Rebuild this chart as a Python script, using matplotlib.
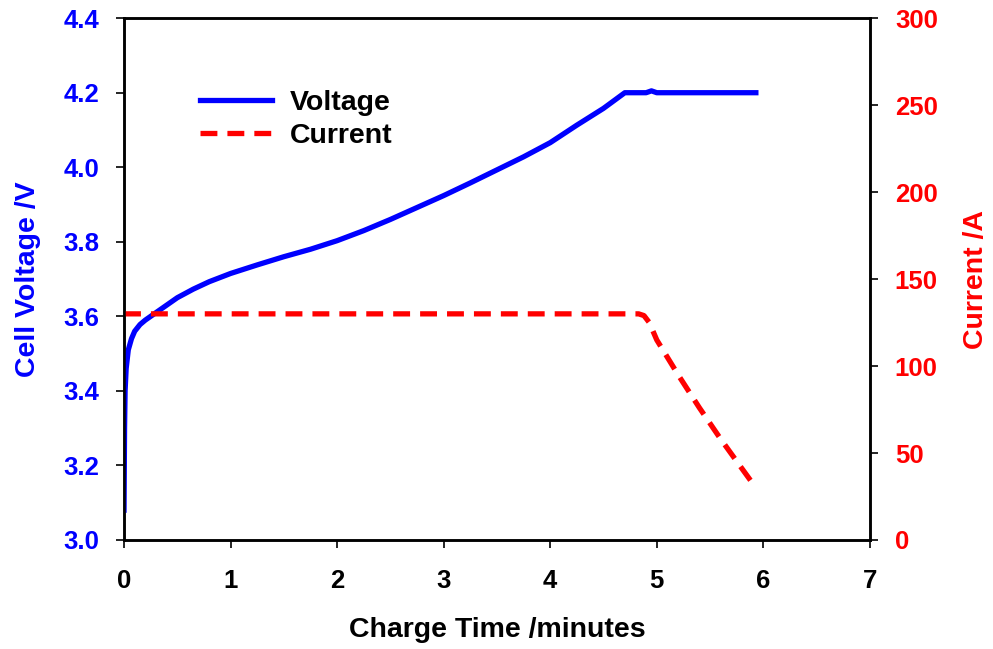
import numpy as np
import matplotlib.pyplot as plt

plt.rcParams['font.family'] = ['Liberation Sans', 'DejaVu Sans']
plt.rcParams['font.weight'] = 'bold'

# Voltage curve (minutes, volts)
time_v = [0.0, 0.005, 0.01, 0.02, 0.04, 0.07, 0.1, 0.15, 0.2, 0.3, 0.4, 0.5, 0.65,
          0.8, 1.0, 1.25, 1.5, 1.75, 2.0, 2.25, 2.5, 2.75, 3.0, 3.25, 3.5, 3.75,
          4.0, 4.25, 4.5, 4.7, 4.9, 4.95, 5.0, 5.5, 5.93]
voltage = [3.08, 3.3, 3.4, 3.46, 3.51, 3.54, 3.56, 3.578, 3.59, 3.61, 3.63, 3.65, 3.673,
           3.693, 3.715, 3.738, 3.76, 3.78, 3.803, 3.83, 3.86, 3.892, 3.924, 3.958,
           3.993, 4.028, 4.066, 4.113, 4.158, 4.20, 4.20, 4.205, 4.20, 4.20, 4.20]

# Current curve (minutes, amps)
time_i = [0.0, 4.83, 4.88, 4.93, 5.0, 5.2, 5.4, 5.6, 5.8, 5.93]
current = [130, 130, 129, 125, 115, 95, 76, 58, 41, 30]

fig, ax = plt.subplots(figsize=(9.93, 6.49), dpi=100)
fig.subplots_adjust(left=0.1249, right=0.876, bottom=0.168, top=0.972)
ax2 = ax.twinx()

l1, = ax.plot(time_v, voltage, color='#0000FF', lw=3.8, label='Voltage', zorder=3)
l2, = ax2.plot(time_i, current, color='#FF0000', lw=3.8, ls=(0, (3.2, 1.9)), label='Current')

ax.set_xlim(0, 7)
ax.set_ylim(3.0, 4.4)
ax2.set_ylim(0, 300)
ax.set_xticks(np.arange(0, 8, 1))
ax.set_yticks(np.arange(3.0, 4.41, 0.2))
ax.set_yticklabels([f'{v:.1f}' for v in np.arange(3.0, 4.41, 0.2)])
ax2.set_yticks(np.arange(0, 301, 50))

for a in (ax, ax2):
    for s in a.spines.values():
        s.set_linewidth(1.8)
    a.tick_params(width=1.2, length=6, direction='out', labelsize=18.5)

ax.tick_params(axis='y', colors='black', labelcolor='#0000FF', pad=12)
ax.tick_params(axis='x', pad=15)
ax2.tick_params(axis='y', labelcolor='#FF0000', pad=12)
for lab in ax.get_xticklabels() + ax.get_yticklabels() + ax2.get_yticklabels():
    lab.set_fontweight('bold')

ax.set_xlabel('Charge Time /minutes', fontsize=20.5, fontweight='bold', labelpad=17)
ax.set_ylabel('Cell Voltage /V', fontsize=20.5, fontweight='bold', color='#0000FF', labelpad=16)
ax2.set_ylabel('Current /A', fontsize=20.5, fontweight='bold', color='#FF0000', labelpad=18)

ax2.legend([l1, l2], ['Voltage', 'Current'], loc='upper left',
           bbox_to_anchor=(0.068, 0.912), frameon=False, handlelength=2.5,
           prop={'size': 20.5, 'weight': 'bold'}, labelspacing=0.25, handletextpad=0.63)

fig.savefig('out.png', dpi=100)
